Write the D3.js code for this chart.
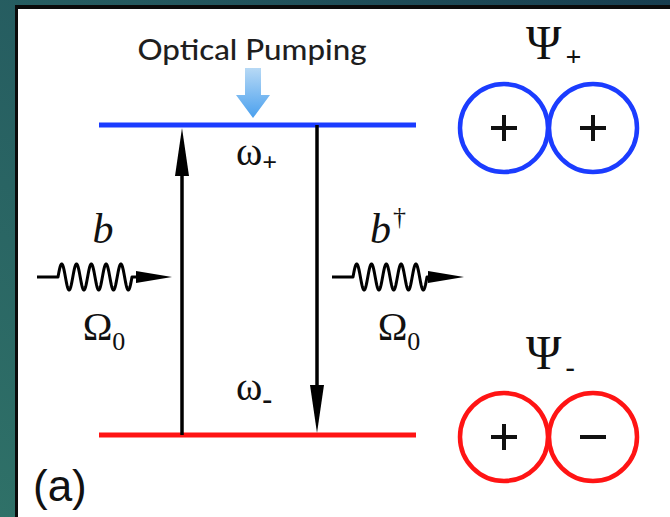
<!DOCTYPE html>
<html>
<head>
<meta charset="utf-8">
<script src="https://cdn.jsdelivr.net/npm/d3@7"></script>
<style>
  html, body { margin: 0; padding: 0; background: #2b6a66; }
  svg { display: block; }
</style>
</head>
<body>
<svg id="fig" width="670" height="517"></svg>
<script>
// Two-level system: energy levels, transitions, phonon lines and the dimer states
const levelNames   = ["ω", "ω"];
const levelSubs    = ["-", "+"];
const levelEnergy  = [0, 1];              // lower (antisymmetric) and upper (symmetric)
const levelColors  = ["#ff1414", "#1b3cff"];
const stateNames   = ["Ψ", "Ψ"];
const stateSubs    = ["-", "+"];
const stateSigns   = [["+", "−"], ["+", "+"]];
const phononLabels = ["b", "b"];
const phononSups   = ["", "†"];
const phononFreq   = ["Ω", "Ω"];
const phononSub    = ["0", "0"];
const pumpLabel    = "Optical Pumping";
const panelLabel   = "(a)";

const W = 670, H = 517;
const svg = d3.select("#fig");
const defs = svg.append("defs");

// framed background
const bg = defs.append("linearGradient").attr("id", "bg")
  .attr("x1", "0").attr("y1", "1").attr("x2", "1").attr("y2", "0");
bg.append("stop").attr("offset", "0").attr("stop-color", "#2f7168");
bg.append("stop").attr("offset", "0.6").attr("stop-color", "#24595f");
bg.append("stop").attr("offset", "1").attr("stop-color", "#173d4f");
svg.append("rect").attr("width", W).attr("height", H).attr("fill", "url(#bg)");
svg.append("rect").attr("x", 15).attr("y", 5).attr("width", W).attr("height", H)
  .attr("fill", "#0b0b0b");
svg.append("rect").attr("x", 18).attr("y", 9).attr("width", W).attr("height", H)
  .attr("fill", "#ffffff");

const serif = "'Liberation Serif', 'DejaVu Serif', serif";
const sans = "'Liberation Sans', Arial, sans-serif";

// energy axis: level value -> vertical position
const y = d3.scaleLinear().domain([0, 1]).range([435, 125]);
const xLevel = d3.scaleLinear().domain([0, 1]).range([99, 416]);

// level lines
svg.append("g").selectAll("line").data(levelEnergy).join("line")
  .attr("x1", xLevel(0)).attr("x2", xLevel(1))
  .attr("y1", d => y(d)).attr("y2", d => y(d))
  .attr("stroke", (d, i) => levelColors[i]).attr("stroke-width", 5);

// vertical transition arrows (absorption up, emission down)
function vArrow(x, yFrom, yTo) {
  const dir = yTo < yFrom ? -1 : 1;
  const headLen = 48, headHalf = 7;
  const g = svg.append("g");
  g.append("line").attr("x1", x).attr("x2", x)
    .attr("y1", yFrom).attr("y2", yTo - dir * headLen + dir * 4)
    .attr("stroke", "#000").attr("stroke-width", 3.5);
  g.append("path")
    .attr("d", d3.line()([[x, yTo], [x - headHalf, yTo - dir * headLen],
                          [x + headHalf, yTo - dir * headLen]]) + "Z")
    .attr("fill", "#000");
}
vArrow(182, y(levelEnergy[0]), y(levelEnergy[1]) + 3);
vArrow(317, y(levelEnergy[1]), y(levelEnergy[0]) - 2);

// level labels ω±
const levelLabelY = [400, 165];
levelEnergy.forEach((e, i) => {
  const t = svg.append("text").attr("x", 236).attr("y", levelLabelY[i])
    .attr("font-family", serif).attr("font-size", 40).attr("fill", "#111");
  t.append("tspan").text(levelNames[i]);
  t.append("tspan").attr("dy", i === 1 ? 6 : 9).attr("font-size", i === 1 ? 26 : 30)
    .attr("font-weight", "bold").text(levelSubs[i]);
});

// optical pumping label and arrow
svg.append("text").attr("x", 252).attr("y", 60).attr("text-anchor", "middle")
  .attr("font-family", "Lato, 'Open Sans', sans-serif").attr("font-size", 28)
  .attr("font-weight", 500)
  .attr("fill", "#1e1e1e").attr("textLength", 229).attr("lengthAdjust", "spacingAndGlyphs")
  .text(pumpLabel);
const pg = defs.append("linearGradient").attr("id", "pump")
  .attr("x1", 0).attr("y1", 0).attr("x2", 0).attr("y2", 1);
pg.append("stop").attr("offset", 0).attr("stop-color", "#b7d9f5");
pg.append("stop").attr("offset", 1).attr("stop-color", "#4aa0ee");
const px = 253, pTop = 68, pTip = 118, pNeck = 95;
svg.append("path")
  .attr("d", d3.line()([[px - 8, pTop], [px + 8, pTop], [px + 8, pNeck], [px + 17, pNeck],
                        [px, pTip], [px - 17, pNeck], [px - 8, pNeck]]) + "Z")
  .attr("fill", "url(#pump)");

// phonon (wavy) arrows
function wavyArrow(x0, x1, yc) {
  const w0 = x0 + 21, w1 = x0 + 95, cycles = 5, amp = 13;
  const pts = [[x0, yc], [w0, yc]];
  const n = 200;
  for (let k = 0; k <= n; k++) {
    const t = k / n;
    pts.push([w0 + t * (w1 - w0), yc - amp * Math.sin(t * cycles * 2 * Math.PI)]);
  }
  pts.push([x1 - 30, yc]);
  svg.append("path").attr("d", d3.line()(pts))
    .attr("fill", "none").attr("stroke", "#000").attr("stroke-width", 3)
    .attr("stroke-linejoin", "round");
  svg.append("path")
    .attr("d", d3.line()([[x1, yc], [x1 - 36, yc - 6], [x1 - 36, yc + 6]]) + "Z")
    .attr("fill", "#000");
}
const phononX = [[37, 172], [332, 464]];
phononX.forEach(([a, b], i) => {
  wavyArrow(a, b, 277);
  const cx = a + 66;
  const bt = svg.append("text").attr("x", cx - (i ? 10 : 0)).attr("y", 243)
    .attr("text-anchor", "middle").attr("font-family", serif).attr("font-style", "italic")
    .attr("font-size", 42).attr("fill", "#111");
  bt.append("tspan").text(phononLabels[i]);
  if (phononSups[i]) bt.append("tspan").attr("dx", 2).attr("dy", -18).attr("font-size", 26)
    .attr("font-style", "normal").text(phononSups[i]);
  const ot = svg.append("text").attr("x", cx + 1).attr("y", 340)
    .attr("text-anchor", "middle").attr("font-family", serif)
    .attr("font-size", 40).attr("fill", "#111");
  ot.append("tspan").text(phononFreq[i]);
  ot.append("tspan").attr("dy", 10).attr("font-size", 26).text(phononSub[i]);
});

// dimer states: two touching rings with relative phase signs
const stateY = [437, 128];
const stateLabelY = [369, 59];
const ringX = [504, 593], ringR = 44;
stateY.forEach((cy, i) => {
  const g = svg.append("g");
  g.selectAll("circle").data(ringX).join("circle")
    .attr("cx", d => d).attr("cy", cy).attr("r", ringR)
    .attr("fill", "none").attr("stroke", levelColors[i]).attr("stroke-width", 4.5);
  stateSigns[i].forEach((s, j) => {
    const cx = ringX[j];
    g.append("line").attr("x1", cx - 13).attr("x2", cx + 13).attr("y1", cy).attr("y2", cy)
      .attr("stroke", "#111").attr("stroke-width", 4);
    if (s === "+") g.append("line").attr("x1", cx).attr("x2", cx)
      .attr("y1", cy - 13).attr("y2", cy + 13).attr("stroke", "#111").attr("stroke-width", 4);
  });
  const t = svg.append("text").attr("x", 526).attr("y", stateLabelY[i])
    .attr("font-family", serif).attr("font-size", 48).attr("fill", "#111");
  t.append("tspan").text(stateNames[i]);
  t.append("tspan").attr("dx", 4).attr("dy", 7).attr("font-size", 28)
    .attr("font-weight", "bold").text(stateSubs[i]);
});

// panel label
svg.append("text").attr("x", 33).attr("y", 501)
  .attr("font-family", sans).attr("font-size", 44).attr("fill", "#111")
  .text(panelLabel);
</script>
</body>
</html>
